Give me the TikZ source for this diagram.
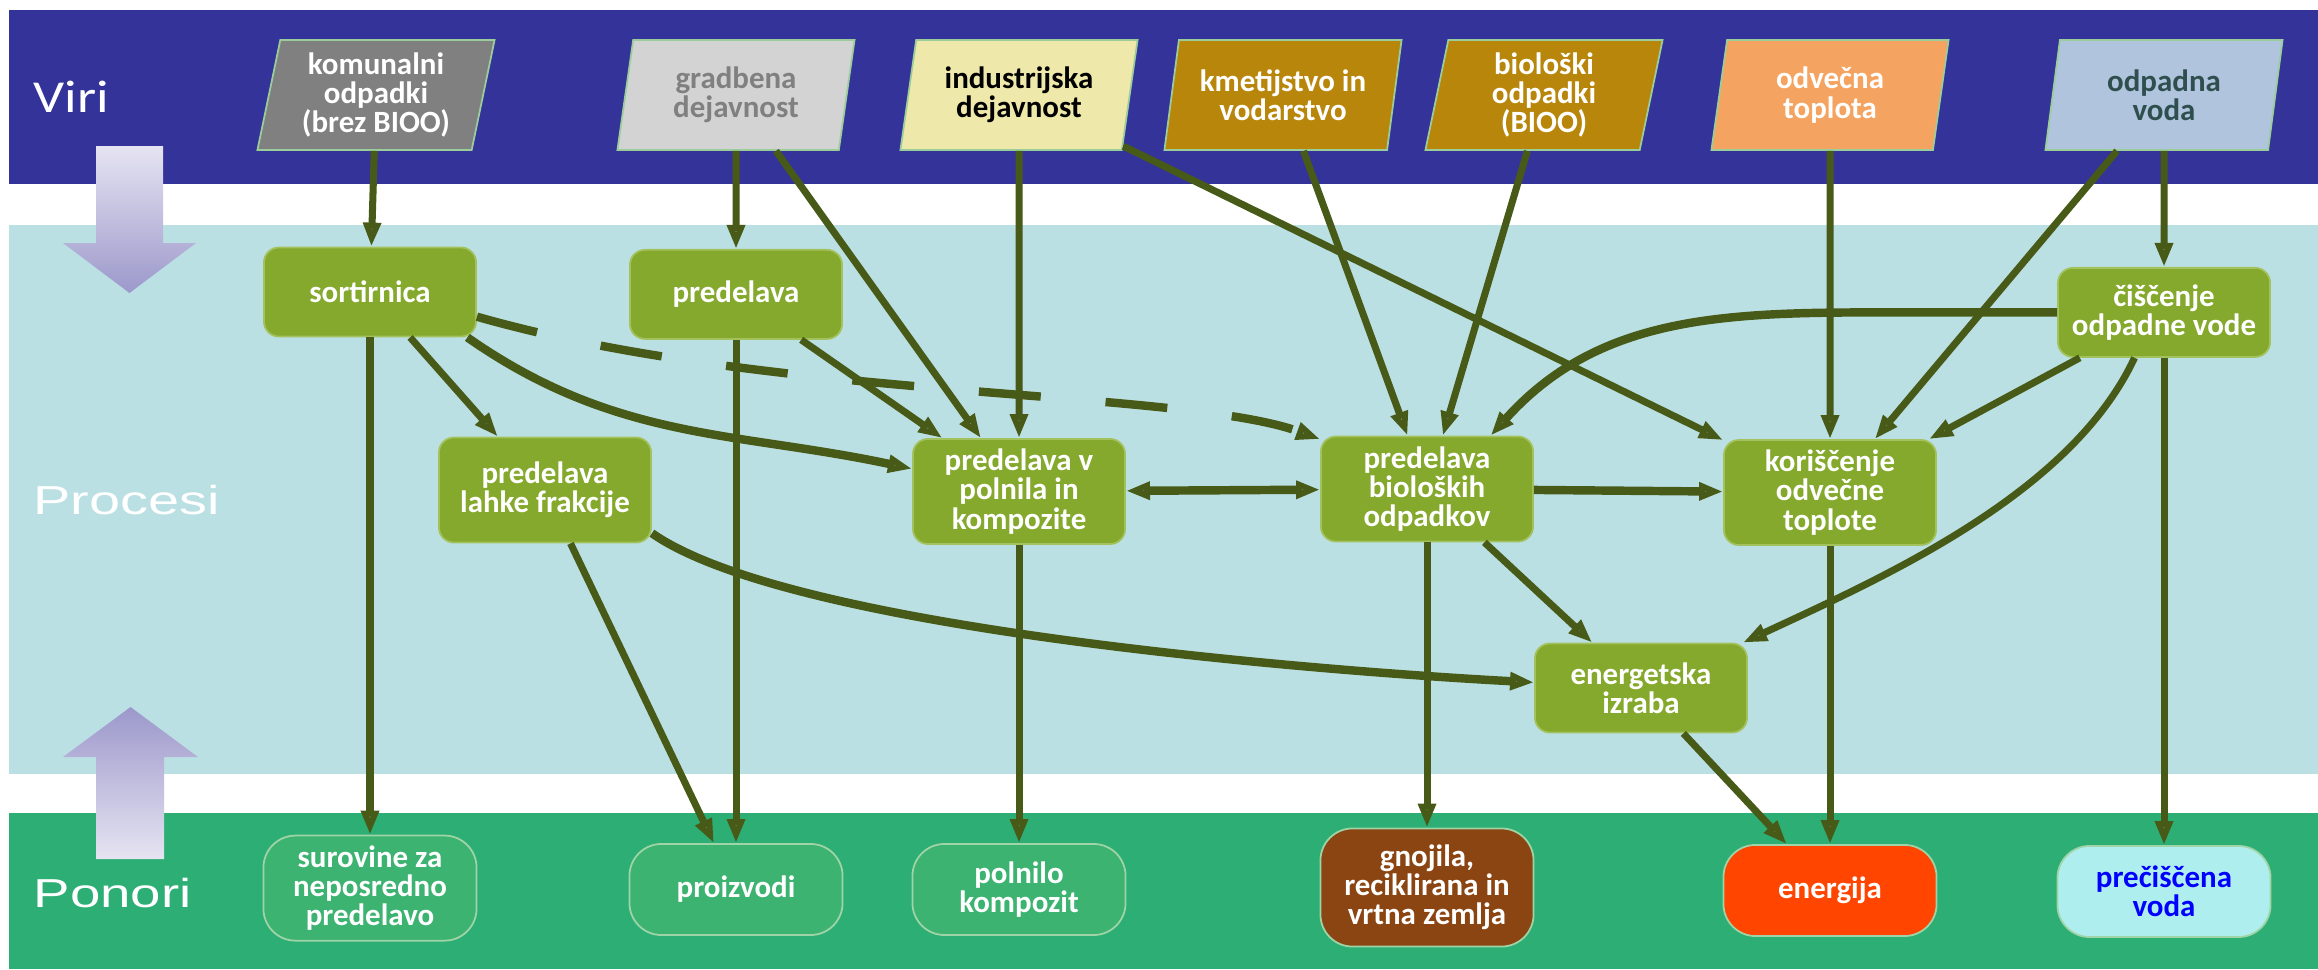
\documentclass[tikz,border=0pt]{standalone}
\usepackage{xcolor}
\usepackage{fontspec}
\setmainfont{Carlito}
\newfontfamily\bandfont{Liberation Sans}
\usetikzlibrary{positioning,shapes.geometric,arrows.meta}

\definecolor{viriblue}{HTML}{333399}
\definecolor{procblue}{HTML}{BBE0E3}
\definecolor{ponorgreen}{HTML}{2DAE74}
\definecolor{procfill}{HTML}{84A92C}
\definecolor{procedge}{HTML}{A3C25E}
\definecolor{sinkfill}{HTML}{3CB371}
\definecolor{sinkedge}{HTML}{9FD4A6}
\definecolor{srcedge}{HTML}{9ACD9A}
\definecolor{srclight}{HTML}{D3D3D3}
\definecolor{flowgreen}{HTML}{485A17}
\definecolor{arrlight}{HTML}{E6E4F2}
\definecolor{arrdark}{HTML}{9C98CB}

\tikzset{
  >={Triangle[length=0.24cm,width=0.17cm,fill=white]},
  txt/.style={font={\fontsize{8.8}{8.3}\selectfont\bfseries}, align=center, text=white, inner sep=1pt},
  src/.style={txt, trapezium, trapezium left angle=76, trapezium right angle=104,
    trapezium stretches body, minimum width=2.37cm, minimum height=1.1cm, draw=srcedge, line width=0.5pt},
  proc/.style={txt, rectangle, rounded corners=0.15cm, fill=procfill, draw=procedge, line width=0.5pt,
    minimum width=2.12cm, minimum height=0.89cm},
  procbig/.style={proc, minimum height=1.05cm},
  sink/.style={txt, rectangle, rounded corners=0.32cm, fill=sinkfill, draw=sinkedge, line width=0.5pt,
    minimum width=2.13cm, minimum height=0.91cm},
  lbl/.style={text=white, inner sep=0pt, anchor=west},
  link/.style={draw=flowgreen, line width=2pt, ->},
  heavy/.style={link, line width=2.4pt}
}

\begin{document}
\begin{tikzpicture}[x=0.01cm, y=0.01cm]
  \useasboundingbox (0,0) rectangle (2318,-969);
  \fill[white] (0,0) rectangle (2318,-969);
  \fill[viriblue] (9,-10) rectangle (2318,-184);
  \fill[procblue] (9,-225) rectangle (2318,-774);
  \fill[ponorgreen] (9,-813) rectangle (2318,-969);

  \shade[top color=arrlight, bottom color=arrdark] (96,-146) -- (163,-146) -- (163,-243) -- (196,-243)
    -- (129.5,-293) -- (63,-243) -- (96,-243) -- cycle;
  \shade[top color=arrdark, bottom color=arrlight] (130.5,-707) -- (198,-757) -- (164,-757) -- (164,-859)
    -- (96,-859) -- (96,-757) -- (63,-757) -- cycle;

  \node[lbl, font=\fontsize{13}{13}\selectfont] (viri) at (33,-97) {\scalebox{1.2}[1]{Viri}};
  \node[lbl, font=\bandfont\fontsize{11.5}{11.5}\selectfont] (procesi) at (33,-500) {\scalebox{1.38}[1]{Procesi}};
  \node[lbl, font=\bandfont\fontsize{11.5}{11.5}\selectfont] (ponori) at (33,-893) {\scalebox{1.35}[1]{Ponori}};

  \node[src, fill=gray] (kom) at (376,-95) {komunalni\\odpadki\\(brez BIOO)};
  \node[src, fill=srclight, text=gray] (grad) at (736,-95) {gradbena\\dejavnost};
  \node[src, fill={rgb,255:red,238;green,232;blue,170}, text=black] (ind) at (1019,-95) {industrijska\\dejavnost};
  \node[src, fill={rgb,255:red,184;green,134;blue,11}] (kmet) at (1283,-95) {kmetijstvo in\\vodarstvo};
  \node[src, fill={rgb,255:red,184;green,134;blue,11}] (biosrc) at (1544,-95) {biološki\\odpadki\\(BIOO)};
  \node[src, fill={rgb,255:red,244;green,164;blue,96}] (odv) at (1830,-95) {odvečna\\toplota};
  \node[src, fill={rgb,255:red,176;green,196;blue,222}, text={rgb,255:red,47;green,79;blue,79}] (odp) at (2164,-95) {odpadna\\voda};

  \node[proc] (sort) at (370,-292) {sortirnica};
  \node[proc] (pred) [below=0.98cm of grad] {predelava};
  \node[procbig] (lahke) at (545,-490) {predelava\\lahke frakcije};
  \node[procbig] (poln) [below=2.87cm of ind] {predelava v\\polnila in\\kompozite};
  \node[procbig] (biop) at (1427,-489) {predelava\\bioloških\\odpadkov};
  \node[procbig] (kor) [below=2.88cm of odv] {koriščenje\\odvečne\\toplote};
  \node[proc] (cis) [below=1.16cm of odp] {čiščenje\\odpadne vode};
  \node[proc] (ener) at (1641,-688) {energetska\\izraba};

  \node[sink, minimum height=1.05cm] (sur) [below=4.97cm of sort] {surovine za\\neposredno\\predelavo};
  \node[sink] (proizv) [below=5.03cm of pred] {proizvodi};
  \node[sink] (polnilo) [below=2.98cm of poln] {polnilo\\kompozit};
  \node[sink, minimum height=1.18cm, fill={rgb,255:red,139;green,69;blue,19}] (gnoj) [below=2.85cm of biop] {gnojila,\\reciklirana in\\vrtna zemlja};
  \node[sink, fill={rgb,255:red,255;green,69;blue,0}] (energ) [below=2.98cm of kor] {energija};
  \node[sink, fill={rgb,255:red,175;green,238;blue,238}, text=blue] (prec) [below=4.87cm of cis] {prečiščena\\voda};

  \draw[link] (kom) -- (sort);
  \draw[link] (grad) -- (pred);
  \draw[link] (grad) -- (poln);
  \draw[link] (ind) -- (poln);
  \draw[link] (ind) -- (kor);
  \draw[link] (kmet) -- (biop);
  \draw[link] (biosrc) -- (biop);
  \draw[link] (odv) -- (kor);
  \draw[link] (odp) -- (kor);
  \draw[link] (odp) -- (cis);
  \draw[link] (sort) -- (sur);
  \draw[link] (sort) -- (lahke);
  \draw[heavy] (sort.-25) to[out=-35, in=168] (poln.168);
  \draw[heavy, dash pattern=on 0.62cm off 0.65cm] (sort.-13) .. controls (768,-400) and (1181,-389) .. (biop.155);
  \draw[link] (pred) -- (proizv);
  \draw[link] (pred) -- (poln);
  \draw[link] (lahke) -- (proizv);
  \draw[heavy] (lahke.-22) to[out=-35, in=177, looseness=0.5] (ener.177);
  \draw[heavy, <->] (poln) -- (biop);
  \draw[link] (poln) -- (polnilo);
  \draw[heavy] (biop) -- (kor);
  \draw[link] (biop) -- (gnoj);
  \draw[link] (biop) -- (ener);
  \draw[link] (kor) -- (energ);
  \draw[link] (cis) -- (kor);
  \draw[heavy] (cis.west) -- ++(-180,0) to[out=180, in=48] (biop.40);
  \draw[link] (cis.-123) to[out=-115, in=25, looseness=0.8] (ener.24);
  \draw[link] (cis) -- (prec);
  \draw[link] (ener) -- (energ);
\end{tikzpicture}
\end{document}
